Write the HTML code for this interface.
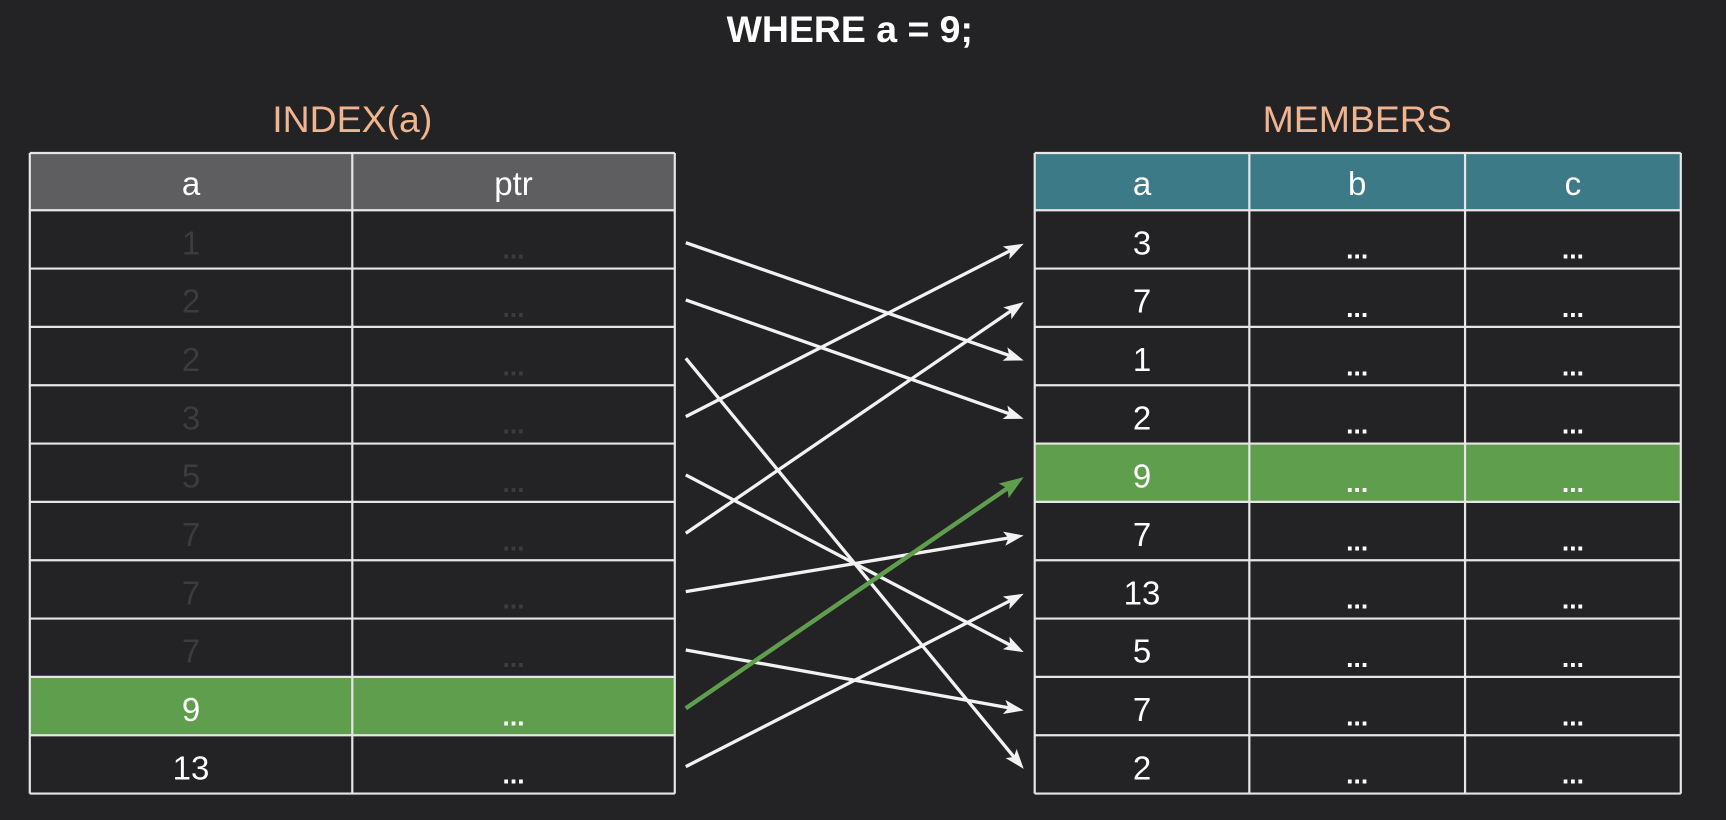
<!DOCTYPE html>
<html><head><meta charset="utf-8"><style>
html,body{margin:0;padding:0;background:#232224;}
svg{display:block;}
text{font-family:"Liberation Sans",sans-serif;}
</style></head><body>
<svg id="chart" width="1726" height="820" viewBox="0 0 1568 745" xmlns="http://www.w3.org/2000/svg">
<rect width="1568" height="745" fill="#232224"/>
<text x="772" y="38" fill="#ffffff" font-size="34" font-weight="bold" text-anchor="middle">WHERE a = 9;</text>
<text x="320" y="120" fill="#f0b48f" font-size="34" text-anchor="middle">INDEX(a)</text>
<text x="1233" y="120" fill="#f0b48f" font-size="34" text-anchor="middle">MEMBERS</text>
<g id="tables"></g>
<g id="arrows"></g>
</svg>
<script>
const indexKeys = ["1","2","2","3","5","7","7","7","9","13"];
const memberKeys = ["3","7","1","2","9","7","13","5","7","2"];
const pointers = [2,3,9,0,7,1,5,8,4,6]; // index row -> members row
const highlightIndexRow = 8;
const highlightMemberRow = 4;

const NS="http://www.w3.org/2000/svg";
const top0=139, hdrH=52, rowH=(721-191)/10;
const rowY=i=>191+i*rowH;
const tg=document.getElementById('tables');
function el(tag,attrs,parent){const e=document.createElementNS(NS,tag);for(const k in attrs)e.setAttribute(k,attrs[k]);parent.appendChild(e);return e;}

function table(x0,cols,headers,hdrFill,keys,hl,dim,name){
  const w=cols.reduce((a,b)=>a+b,0);
  const g=el('g',{},tg);
  
  
  el('rect',{x:x0,y:top0,width:w,height:hdrH,fill:hdrFill},g);
  let cx=x0;
  headers.forEach((h,j)=>{
    const t=el('text',{x:cx+cols[j]/2,y:top0+38,fill:'#fff','font-size':30,'text-anchor':'middle'},g);
    t.textContent=h;
    
    
    cx+=cols[j];
  });
  keys.forEach((k,i)=>{
    const y=rowY(i);
    if(i===hl) el('rect',{x:x0,y:y,width:w,height:rowH,fill:'#5f9e4c'},g);
    const fc=(dim && i!==hl && i<9)?'#3c3b3e':'#ffffff';
    let cx=x0;
    cols.forEach((cw,j)=>{
      const t=el('text',{x:cx+cw/2,y:y+(j===0?40:44),fill:fc,'font-size':j===0?30:24,'text-anchor':'middle','font-weight':j===0?'normal':'bold'},g);
      t.textContent=j===0?k:'...';
      
      
      cx+=cw;
    });
  });
  for(let i=0;i<=11;i++){const y=i===0?top0:rowY(i-1);el('line',{x1:x0,x2:x0+w,y1:y,y2:y,stroke:'#e6e6e6','stroke-width':2},g);}
  let lx=x0;
  for(let j=0;j<=cols.length;j++){el('line',{x1:lx,x2:lx,y1:top0,y2:721,stroke:'#e6e6e6','stroke-width':2},g);if(j<cols.length)lx+=cols[j];}
}
table(27,[293,293],["a","ptr"],"#5e5d60",indexKeys,highlightIndexRow,true,'index-table');
table(940,[195,196,196],["a","b","c"],"#3d7a87",memberKeys,highlightMemberRow,false,'members-table');

const ag=document.getElementById('arrows');
pointers.forEach((m,i)=>{
  const green=i===highlightIndexRow;
  const col=green?'#5f9e4c':'#f2f2f2';
  const x1=623,x2=930;
  const y1=rowY(i)+rowH/2+(i===0?3:2), y2=rowY(m)+rowH/2+4;
  const dx=x2-x1, dy=y2-y1, L=Math.hypot(dx,dy), ux=dx/L, uy=dy/L;
  const hl=green?22:18, hw=green?8:6.5;
  const bx=x2-ux*hl, by=y2-uy*hl;
  const l=el('line',{x1:x1,y1:y1,x2:bx+ux*4,y2:by+uy*4,stroke:col,'stroke-width':green?4:3},ag);
  
  
  const p=el('polygon',{points:`${x2},${y2} ${bx-uy*hw},${by+ux*hw} ${bx+ux*4},${by+uy*4} ${bx+uy*hw},${by-ux*hw}`,fill:col},ag);
  
  
});
</script>
</body></html>
